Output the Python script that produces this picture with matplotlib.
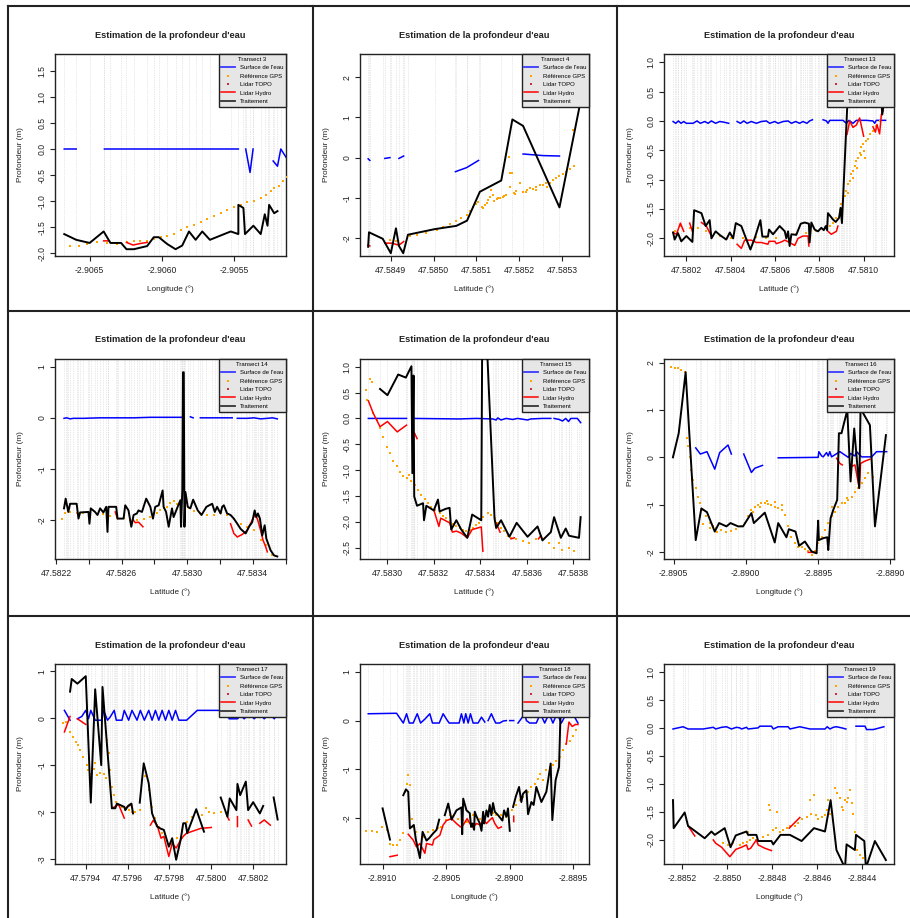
import numpy as np
import matplotlib.pyplot as plt
from matplotlib.lines import Line2D

nan = np.nan

# ---- Transect 3 (longitude) ----
t3_eau_x = [-2.906676, -2.906593, nan, -2.906398, -2.905470, nan, -2.905419, -2.905389, -2.905368,
            nan, -2.905229, -2.905199, -2.905176, -2.905137]
t3_eau_y = [0, 0, nan, 0, 0, nan, 0, -0.45, 0, nan, -0.23, -0.33, 0, -0.17]
t3_gps_x = [-2.906634, -2.906576, -2.906519, -2.906449, -2.906380, -2.906310, -2.906241, -2.906194,
            -2.906148, -2.906102, -2.906056, -2.906009, -2.905963, -2.905917, -2.905870, -2.905824,
            -2.905778, -2.905731, -2.905685, -2.905639, -2.905593, -2.905546, -2.905500, -2.905454,
            -2.905407, -2.905361, -2.905315, -2.905280, -2.905245, -2.905222, -2.905187, -2.905164,
            -2.905136]
t3_gps_y = [-1.86, -1.86, -1.82, -1.79, -1.81, -1.82, -1.79, -1.76, -1.77, -1.76, -1.72, -1.69, -1.66,
            -1.62, -1.56, -1.50, -1.45, -1.40, -1.34, -1.28, -1.23, -1.17, -1.12, -1.07, -1.02, -0.99,
            -0.94, -0.89, -0.80, -0.75, -0.70, -0.61, -0.53]
t3_hydro_x = [-2.906403, -2.906368, nan, -2.906245, -2.906199, -2.906148, -2.906102]
t3_hydro_y = [-1.76, -1.76, nan, -1.79, -1.84, -1.81, -1.79]
t3_trait_x = [-2.906676, -2.906593, -2.906500, -2.906403, -2.906356, -2.906282, -2.906245, -2.906194,
              -2.906102, -2.906056, -2.906021, -2.905963, -2.905905, -2.905859, -2.905812, -2.905766,
              -2.905720, -2.905667, -2.905523, -2.905470, -2.905470, -2.905435, -2.905424, -2.905366,
              -2.905315, -2.905287, -2.905268, -2.905257, -2.905222, -2.905199]
t3_trait_y = [-1.63, -1.74, -1.80, -1.58, -1.80, -1.80, -1.92, -1.92, -1.86, -1.69, -1.69, -1.82, -1.92,
              -1.85, -1.58, -1.74, -1.58, -1.74, -1.58, -1.63, -1.07, -1.13, -1.63, -1.47, -1.63, -1.25,
              -1.47, -1.07, -1.23, -1.19]

# ---- Transect 4 (latitude) ----
t4_eau_x = [47.584847, 47.584851, nan, 47.584886, 47.584898, nan, 47.584919, 47.584930, nan,
            47.585051, 47.585077, 47.585105, nan, 47.585209, 47.585256, 47.585294]
t4_eau_y = [-0.03, -0.07, nan, -0.02, 0.0, nan, -0.02, 0.04, nan, -0.35, -0.25, -0.07, nan, 0.09, 0.05, 0.04]
t4_gps_x = [47.584898, 47.584913, 47.584944, 47.584960, 47.584983, 47.585007, 47.585022, 47.585038,
            47.585053, 47.585065, 47.585077, 47.585084, 47.585092, 47.585100, 47.585104, 47.585112,
            47.585119, 47.585127, 47.585131, 47.585135, 47.585139, 47.585147, 47.585154, 47.585162,
            47.585170, 47.585176, 47.585178, 47.585179, 47.585184, 47.585187, 47.585193, 47.585201,
            47.585209, 47.585217, 47.585224, 47.585232, 47.585240, 47.585248, 47.585256, 47.585263,
            47.585271, 47.585279, 47.585287, 47.585294, 47.585302, 47.585310, 47.585318, 47.585327,
            47.585326, 47.585115, 47.585125, 47.585140, 47.585150, 47.585165, 47.585190, 47.585215,
            47.585240, 47.585265]
t4_gps_y = [-2.05, -2.07, -1.94, -1.93, -1.88, -1.80, -1.73, -1.65, -1.59, -1.51, -1.43, -1.34, -1.24,
            -1.15, -1.10, -1.22, -1.18, -1.05, -0.97, -0.81, -0.93, -1.04, -1.01, -0.97, -0.93, 0.01,
            -0.39, -0.72, -0.39, -0.87, -0.82, -0.64, -0.85, -0.80, -0.76, -0.79, -0.72, -0.68, -0.68,
            -0.64, -0.62, -0.56, -0.51, -0.46, -0.41, -0.35, -0.28, -0.20, 0.69, -1.25, -1.12, -1.08,
            -1.00, -0.95, -0.90, -0.86, -0.80, -0.72]
t4_hydro_x = [47.584847, 47.584851, nan, 47.584886, 47.584902, 47.584919, 47.584930]
t4_hydro_y = [-2.18, -2.20, nan, -2.13, -2.13, -2.18, -2.09]
t4_trait_x = [47.584847, 47.584849, 47.584881, 47.584900, 47.584912, 47.584919, 47.584929, 47.584940,
              47.585003, 47.585053, 47.585078, 47.585108, 47.585158, 47.585184, 47.585209, 47.585294,
              47.585361]
t4_trait_y = [-2.22, -1.86, -2.02, -2.38, -1.76, -2.20, -2.38, -1.92, -1.78, -1.70, -1.57, -0.85, -0.57,
              0.95, 0.79, -1.24, 2.35]

# ---- Transect 13 (latitude) ----
t13_eau_x = [47.580140, 47.580152, 47.580164, 47.580176, 47.580188, 47.580200, 47.580230, 47.580248,
             47.580263, 47.580283, 47.580298, 47.580313, 47.580332, 47.580350, 47.580368, 47.580391, nan,
             47.580429, 47.580444, 47.580459, 47.580474, 47.580493, 47.580516, 47.580538, 47.580561,
             47.580576, 47.580599, 47.580614, 47.580636, 47.580659, 47.580674, 47.580693, 47.580711,
             47.580726, 47.580744, 47.580756, 47.580769, nan, 47.580817, 47.580832, 47.580839,
             47.580847, 47.580907, 47.580922, 47.580934, 47.580952, 47.580967, 47.581012, 47.581042,
             47.581050, 47.581057, 47.581099]
t13_eau_y = [-0.01, -0.04, 0.0, -0.04, -0.01, -0.04, -0.04, 0.0, -0.04, -0.01, -0.04, 0.0, -0.04, -0.01,
             -0.02, -0.04, nan, -0.01, -0.04, 0.0, -0.04, -0.01, -0.04, -0.01, 0.0, -0.04, -0.01, -0.04,
             -0.01, 0.0, -0.04, -0.01, -0.04, -0.01, -0.04, 0.0, 0.02, nan, 0.02, 0.0, -0.04, 0.01, 0.01,
             -0.04, 0.01, -0.04, 0.01, 0.01, 0.0, -0.04, 0.01, 0.01]
t13_gps_x = [47.580147, 47.580177, 47.580215, 47.580253, 47.580290, 47.580350, 47.580403, 47.580456,
             47.580516, 47.580561, 47.580606, 47.580651, 47.580696, 47.580741, 47.580787, 47.580817,
             47.580847, 47.580862, 47.580877, 47.580892, 47.580899, 47.580907, 47.580914, 47.580922,
             47.580929, 47.580937, 47.580944, 47.580952, 47.580960, 47.580967, 47.580975, 47.580982,
             47.580990, 47.580997, 47.581005, 47.581012, 47.581020, 47.581027, 47.581042, 47.581057,
             47.581072, 47.580930, 47.580950, 47.580970, 47.580990, 47.581000]
t13_gps_y = [-1.88, -1.79, -1.82, -1.83, -1.88, -1.96, -2.00, -2.00, -1.97, -2.00, -1.99, -1.94, -1.92,
             -1.90, -1.88, -1.84, -1.79, -1.73, -1.65, -1.51, -1.41, -1.36, -1.28, -1.19, -1.08, -1.02,
             -0.91, -0.85, -0.77, -0.68, -0.63, -0.54, -0.45, -0.40, -0.63, -0.34, -0.31, -0.23, -0.17,
             -0.09, 0.0, -1.22, -0.98, -0.80, -0.58, -0.52]
t13_hydro_x = [47.580140, 47.580155, 47.580173, 47.580188, nan, 47.580215, 47.580227, nan,
               47.580268, 47.580290, 47.580313, nan,
               47.580429, 47.580448, 47.580463, 47.580493, 47.580516, 47.580538, 47.580568, 47.580573,
               47.580599, 47.580606, 47.580629, 47.580644, 47.580666, 47.580689, 47.580704, 47.580726,
               47.580749, 47.580753, nan, 47.580839, 47.580854, 47.580877, 47.580884, nan,
               47.580925, 47.580937, 47.580952, 47.580967, 47.580982, 47.581000, nan,
               47.581042, 47.581053, 47.581060, 47.581072, 47.581080, 47.581087]
t13_hydro_y = [-1.90, -1.93, -1.74, -1.88, nan, -1.74, -1.88, nan, -1.73, -1.79, -1.96, nan,
               -2.10, -2.17, -2.03, -2.03, -2.07, -2.07, -2.10, -2.05, -2.05, -2.09, -2.06, -2.03, -2.07,
               -2.12, -2.00, -1.96, -1.96, -2.13, nan, -1.88, -1.93, -1.88, -1.79, nan,
               -0.23, 0.0, -0.11, -0.07, 0.05, -0.26, nan, -0.10, -0.19, -0.06, -0.22, 0.11, 0.17]
t13_trait_x = [47.580140, 47.580147, 47.580162, 47.580177, 47.580200, 47.580227, 47.580235, 47.580268,
               47.580287, 47.580305, 47.580313, 47.580332, 47.580350, 47.580380, 47.580396, 47.580411,
               47.580423, 47.580448, 47.580468, 47.580489, 47.580508, 47.580534, 47.580543, 47.580568,
               47.580573, 47.580591, 47.580602, 47.580621, 47.580644, 47.580651, 47.580659, 47.580666,
               47.580674, 47.580696, 47.580716, 47.580734, 47.580753, 47.580756, 47.580764, 47.580779,
               47.580794, 47.580799, 47.580809, 47.580820, 47.580829, 47.580835, 47.580839, 47.580862,
               47.580874, 47.580889, 47.580896, 47.580902, 47.580910, 47.580925, 47.580937, nan,
               47.581080, 47.581084, 47.581090]
t13_trait_y = [-1.90, -2.02, -1.91, -2.05, -1.96, -2.06, -1.52, -1.57, -1.79, -1.69, -2.00, -1.88, -1.94,
               -2.02, -1.90, -2.00, -1.74, -1.79, -1.99, -2.19, -2.00, -1.69, -1.97, -1.97, -1.85, -1.93,
               -1.88, -1.79, -1.88, -2.00, -1.88, -2.13, -1.93, -1.94, -1.75, -1.73, -1.75, -2.07, -1.73,
               -1.85, -1.88, -1.86, -1.82, -1.86, -1.79, -1.86, -1.57, -1.68, -1.72, -1.65, -1.48, -1.74,
               -1.08, 0.17, 0.91, nan, 0.34, 0.11, 0.28]

# ---- Transect 14 (latitude) ----
t14_eau_x = [47.582249, 47.582265, 47.582286, 47.582306, 47.582326, 47.582367, 47.582469, 47.582571,
             47.582673, 47.582775, 47.582877, 47.582968, nan, 47.583019, 47.583036, nan, 47.583080,
             47.583182, 47.583274, nan, 47.583305, 47.583366, 47.583406, 47.583447, 47.583488,
             47.583519, 47.583549]
t14_eau_y = [-0.01, 0.0, -0.02, -0.01, -0.01, -0.01, 0.0, 0.0, 0.0, 0.01, 0.01, 0.01, nan, 0.02, 0.0, nan,
             0.0, 0.0, 0.0, nan, -0.01, -0.01, 0.0, -0.02, -0.01, 0.0, -0.02]
t14_gps_x = [47.582235, 47.582255, 47.582286, 47.582326, 47.582367, 47.582408, 47.582449, 47.582489,
             47.582530, 47.582571, 47.582612, 47.582652, 47.582693, 47.582734, 47.582775, 47.582815,
             47.582836, 47.582856, 47.582877, 47.582897, 47.582917, 47.582938, 47.582958, 47.582989,
             47.583009, 47.583040, 47.583080, 47.583121, 47.583162, 47.583203, 47.583243, 47.583284,
             47.583325, 47.583366, 47.583406, 47.583447, 47.583478, 47.583519]
t14_gps_y = [-1.97, -1.86, -1.84, -1.86, -1.87, -1.86, -1.89, -1.89, -1.92, -1.94, -1.95, -1.99, -2.00,
             -1.97, -1.94, -1.87, -1.81, -1.77, -1.74, -1.66, -1.62, -1.68, -1.64, -1.74, -1.77, -1.83,
             -1.87, -1.90, -1.90, -1.87, -1.90, -1.97, -2.07, -2.13, -2.20, -2.39, -2.49, -2.69]
t14_hydro_x = [47.582561, 47.582575, nan, 47.582669, 47.582683, 47.582703, 47.582730, nan,
               47.583264, 47.583284, 47.583305, 47.583335, 47.583366, 47.583396, 47.583411, 47.583427,
               47.583447, 47.583462, 47.583478, 47.583488]
t14_hydro_y = [-1.84, -1.97, nan, -1.99, -2.05, -2.04, -2.13, nan, -2.07, -2.26, -2.33, -2.28, -2.20,
               -2.00, -1.90, -1.97, -2.20, -2.39, -2.52, -2.62]
t14_trait_x = [47.582249, 47.582259, 47.582275, 47.582286, 47.582326, 47.582337, 47.582347, 47.582398,
               47.582404, 47.582412, 47.582438, 47.582453, 47.582469, 47.582489, 47.582506, 47.582514,
               47.582520, 47.582567, 47.582575, 47.582612, 47.582622, 47.582642, 47.582659, 47.582673,
               47.582693, 47.582703, 47.582724, 47.582750, 47.582775, 47.582791, 47.582805, 47.582826,
               47.582850, 47.582856, 47.582871, 47.582887, 47.582907, 47.582917, 47.582938, 47.582958,
               47.582962, 47.582970, 47.582974, 47.582979, 47.582983, 47.582989, 47.583003, 47.583019,
               47.583036, 47.583064, 47.583087, 47.583117, 47.583152, 47.583168, 47.583182, 47.583203,
               47.583213, 47.583223, 47.583243, 47.583264, 47.583284, 47.583305, 47.583325, 47.583356,
               47.583376, 47.583396, 47.583411, 47.583421, 47.583431, 47.583443, 47.583457, 47.583472,
               47.583482, 47.583508, 47.583529, 47.583549]
t14_trait_y = [-1.77, -1.58, -1.84, -1.68, -1.68, -1.97, -1.85, -1.84, -2.07, -1.77, -1.84, -1.90, -1.77,
               -1.85, -1.74, -2.23, -1.74, -1.74, -1.97, -1.97, -1.71, -1.81, -2.13, -1.90, -1.87, -1.81,
               -1.84, -1.58, -1.74, -1.97, -1.74, -1.71, -1.42, -1.74, -1.84, -2.13, -1.77, -1.94, -1.77,
               -1.61, -2.13, -1.42, 0.89, 0.89, -2.13, -1.45, -1.74, -1.77, -1.60, -1.81, -1.90, -1.74,
               -1.68, -1.84, -1.74, -1.87, -1.74, -1.71, -1.87, -1.90, -1.97, -2.07, -2.17, -2.26, -2.13,
               -2.04, -1.81, -1.94, -1.87, -1.97, -2.30, -2.10, -2.36, -2.59, -2.69, -2.71]

# ---- Transect 15 (latitude) ----
t15_eau_x = [47.582919, 47.583083, nan, 47.583111, 47.583311, 47.583382, 47.583453, 47.583468,
             47.583475, 47.583489, 47.583511, 47.583539, 47.583560, 47.583603, 47.583617, 47.583667,
             47.583703, nan, 47.583717, 47.583739, 47.583753, 47.583767, 47.583779, 47.583789,
             47.583817, 47.583831]
t15_eau_y = [0.0, 0.0, nan, 0.0, -0.01, 0.0, -0.01, -0.03, 0.01, -0.03, 0.0, -0.02, 0.0, -0.03, -0.01,
             0.0, 0.0, nan, 0.0, -0.02, -0.05, 0.0, -0.06, 0.0, 0.0, -0.08]
t15_gps_x = [47.582909, 47.582914, 47.582926, 47.582933, 47.582940, 47.582954, 47.582969, 47.582983,
             47.582997, 47.583011, 47.583026, 47.583040, 47.583054, 47.583068, 47.583083, 47.583094,
             47.583104, 47.583118, 47.583133, 47.583147, 47.583161, 47.583175, 47.583190, 47.583204,
             47.583225, 47.583240, 47.583254, 47.583268, 47.583282, 47.583297, 47.583311, 47.583325,
             47.583339, 47.583354, 47.583368, 47.583382, 47.583396, 47.583411, 47.583432, 47.583446,
             47.583461, 47.583475, 47.583489, 47.583503, 47.583518, 47.583532, 47.583553, 47.583582,
             47.583610, 47.583639, 47.583667, 47.583696, 47.583717, 47.583739, 47.583753, 47.583781,
             47.583803]
t15_gps_y = [0.55, 0.35, 0.77, 0.71, 0.10, -0.03, -0.19, -0.35, -0.55, -0.67, -0.83, -0.93, -1.03, -1.11,
             -1.16, -1.09, -1.22, -1.28, -1.38, -1.48, -1.56, -1.64, -1.71, -1.77, -1.83, -1.88, -1.93,
             -1.99, -2.04, -2.09, -2.12, -2.15, -2.18, -2.15, -2.12, -2.06, -2.02, -1.91, -1.83, -1.86,
             -1.93, -2.02, -2.12, -2.18, -2.28, -2.31, -2.34, -2.38, -2.41, -2.34, -2.31, -2.41, -2.50,
             -2.41, -2.54, -2.50, -2.57]
t15_hydro_x = [47.582919, 47.582940, 47.582969, 47.583001, 47.583043, 47.583083, nan,
               47.583118, 47.583128, nan,
               47.583200, 47.583222, 47.583230, 47.583268, 47.583280, 47.583297, 47.583318, 47.583344,
               47.583365, 47.583404, 47.583411, nan, 47.583468, 47.583485, nan, 47.583532, 47.583546,
               nan, 47.583650, 47.583660]
t15_hydro_y = [0.34, 0.10, -0.16, -0.06, -0.26, -0.13, nan, -0.29, -0.39, nan,
               -1.77, -2.09, -1.93, -2.02, -2.20, -2.18, -2.22, -2.31, -2.15, -2.10, -2.57, nan,
               -2.02, -2.20, nan, -2.33, -2.31, nan, -2.33, -2.27]
t15_trait_x = [47.582969, 47.583001, 47.583047, 47.583080, 47.583104, 47.583108, 47.583113, 47.583116,
               47.583128, 47.583154, 47.583158, 47.583168, 47.583200, 47.583218, 47.583225, 47.583251,
               47.583268, 47.583275, 47.583297, 47.583318, 47.583344, 47.583365, 47.583404, 47.583408,
               47.583428, 47.583461, 47.583468, 47.583489, 47.583525, 47.583556, 47.583603, 47.583646,
               47.583667, 47.583703, 47.583717, 47.583746, 47.583767, 47.583781, 47.583824, 47.583831]
t15_trait_y = [0.57, 0.45, 0.85, 0.79, 1.01, -1.06, 0.83, -1.51, -1.69, -1.64, -1.97, -1.69, -1.78, -1.57,
               -1.80, -1.75, -1.73, -2.15, -1.97, -2.15, -2.31, -1.86, -1.97, 1.45, 1.45, -1.93, -2.12,
               -1.97, -2.29, -2.02, -2.29, -2.09, -2.36, -2.20, -1.91, -2.31, -2.13, -2.27, -2.31, -1.91]

# ---- Transect 16 (longitude) ----
t16_eau_x = [-2.890347, -2.890315, -2.890269, -2.890215, -2.890181, -2.890123, -2.890100, nan,
             -2.890014, -2.889961, -2.889937, -2.889884, nan,
             -2.889775, -2.889498, -2.889493, -2.889474, -2.889463, -2.889440, -2.889428, -2.889417,
             -2.889405, -2.889347, -2.889289, -2.889273, -2.889243, -2.889231, -2.889197, -2.889127,
             -2.889093, -2.889023]
t16_eau_y = [0.20, 0.07, 0.12, -0.25, 0.10, 0.26, 0.07, nan, 0.07, -0.32, -0.23, -0.17, nan,
             -0.01, 0.0, 0.12, 0.03, 0.01, 0.10, 0.03, 0.12, 0.01, 0.12, 0.0, 0.08, 0.03, 0.12, 0.01,
             0.01, 0.12, 0.12]
t16_gps_x = [-2.890516, -2.890493, -2.890470, -2.890447, -2.890424, -2.890407, -2.890400, -2.890389,
             -2.890377, -2.890366, -2.890347, -2.890331, -2.890315, -2.890296, -2.890273, -2.890250,
             -2.890227, -2.890204, -2.890169, -2.890134, -2.890100, -2.890065, -2.890030, -2.890007,
             -2.889984, -2.889961, -2.889937, -2.889914, -2.889891, -2.889868, -2.889845, -2.889822,
             -2.889799, -2.889775, -2.889752, -2.889729, -2.889706, -2.889683, -2.889660, -2.889637,
             -2.889613, -2.889590, -2.889567, -2.889544, -2.889521, -2.889498, -2.889474, -2.889451,
             -2.889428, -2.889405, -2.889382, -2.889359, -2.889336, -2.889312, -2.889289, -2.889266,
             -2.889243, -2.889220, -2.889197, -2.889174, -2.889151, -2.889116,
             -2.889950, -2.889900, -2.889850, -2.889800, -2.889750, -2.890300, -2.890250, -2.890200,
             -2.889400, -2.889300]
t16_gps_y = [1.92, 1.90, 1.88, 1.85, 1.81, 0.40, 0.23, 0.01, -0.27, -0.48, -0.65, -0.83, -0.97, -1.11,
             -1.25, -1.39, -1.46, -1.50, -1.54, -1.57, -1.55, -1.52, -1.46, -1.39, -1.25, -1.11, -1.04,
             -1.01, -0.97, -0.96, -0.99, -1.01, -1.04, -1.08, -1.11, -1.22, -1.46, -1.68, -1.82, -1.89,
             -1.90, -1.94, -1.99, -2.06, -1.99, -1.82, -1.68, -1.54, -1.39, -1.25, -1.15, -1.04, -0.97,
             -0.97, -0.90, -0.83, -0.73, -0.65, -0.55, -0.44, -0.34, -0.41,
             -1.15, -1.05, -0.92, -0.95, -1.00, -1.40, -1.50, -1.58, -1.05, -0.85]
t16_hydro_x = [-2.889567, -2.889509, nan, -2.889370, -2.889347, -2.889331, nan,
               -2.889273, -2.889243, -2.889213, -2.889204, -2.889174, -2.889139]
t16_hydro_y = [-2.01, -2.01, nan, -0.02, -0.13, -0.16, nan, -0.20, -0.16, -0.65, -0.13, -0.08, -0.04]
t16_trait_x = [-2.890505, -2.890465, -2.890417, -2.890347, -2.890308, -2.890269, -2.890215, -2.890185,
               -2.890134, -2.890106, -2.890053, -2.890019, -2.889961, -2.889944, -2.889868, -2.889799,
               -2.889775, -2.889718, -2.889701, -2.889655, -2.889630, -2.889590, -2.889544, -2.889509,
               -2.889498, -2.889493, -2.889463, -2.889435, -2.889428, -2.889412, -2.889393, -2.889366,
               -2.889354, -2.889336, -2.889296, -2.889273, -2.889248, -2.889213, -2.889204, -2.889185,
               -2.889139, -2.889104, -2.889028]
t16_trait_y = [0.0, 0.51, 1.80, -1.75, -1.08, -1.16, -1.57, -1.39, -1.46, -1.39, -1.46, -1.46, -1.18,
               -1.39, -1.17, -1.80, -1.39, -1.69, -1.52, -1.57, -1.87, -1.78, -1.99, -2.03, -1.34, -1.75,
               -1.71, -1.69, -1.96, -1.29, -1.11, -0.90, 0.51, 0.51, 1.00, -0.51, 0.61, -0.65, 1.04,
               0.93, 0.68, -1.46, 0.47]

# ---- Transect 17 (latitude) ----
t17_eau_x = [47.579298, 47.579325, nan, 47.579360, 47.579381, 47.579400, 47.579413, 47.579424,
             47.579445, 47.579477, 47.579485, 47.579504, 47.579517, 47.579536, 47.579546, 47.579573,
             47.579584, 47.579605, 47.579621, 47.579645, 47.579661, 47.579680, 47.579701, 47.579717,
             47.579733, 47.579749, 47.579765, 47.579781, 47.579797, 47.579813, 47.579829, 47.579845,
             47.579882, 47.579933, 47.580029, 47.580077, 47.580085, 47.580125, 47.580141, 47.580157,
             47.580181, 47.580205, 47.580229, 47.580253, 47.580277, 47.580301, 47.580317]
t17_eau_y = [0.17, -0.04, nan, -0.01, 0.04, 0.17, -0.01, 0.17, -0.04, -0.04, 0.17, -0.04, 0.03, 0.17,
             -0.04, -0.04, 0.17, -0.04, 0.17, -0.04, 0.17, -0.04, 0.17, -0.04, 0.17, -0.04, 0.17, -0.04,
             0.17, -0.04, 0.17, -0.04, -0.04, 0.17, 0.17, 0.16, -0.01, -0.01, 0.06, -0.01, 0.10, -0.01,
             0.10, -0.01, 0.10, -0.01, 0.10]
t17_gps_x = [47.579293, 47.579304, 47.579325, 47.579341, 47.579354, 47.579365, 47.579373, 47.579389,
             47.579405, 47.579413, 47.579421, 47.579437, 47.579445, 47.579453, 47.579469, 47.579485,
             47.579498, 47.579501, 47.579509, 47.579517, 47.579525, 47.579533, 47.579546, 47.579557,
             47.579573, 47.579589, 47.579605, 47.579621, 47.579637, 47.579661, 47.579685, 47.579701,
             47.579717, 47.579733, 47.579749, 47.579765, 47.579781, 47.579797, 47.579813, 47.579837,
             47.579861, 47.579885, 47.579909, 47.579933, 47.579957, 47.579973, 47.579989, 47.580013,
             47.580045]
t17_gps_y = [-0.11, -0.08, -0.30, -0.40, -0.50, -0.57, -0.68, -0.82, -1.00, -1.11, -1.18, -1.09, -0.96,
             -1.21, -1.16, -1.19, -1.28, -0.47, -0.75, -1.11, -1.46, -1.64, -1.78, -1.85, -1.90, -1.94,
             -1.96, -1.99, -1.99, -1.96, -1.23, -1.53, -1.90, -2.13, -2.31, -2.45, -2.54, -2.70, -2.67,
             -2.56, -2.38, -2.21, -2.10, -1.99, -2.06, -1.92, -1.99, -2.03, -1.99]
t17_hydro_x = [47.579298, 47.579325, nan, 47.579360, 47.579400, nan, 47.579525, 47.579557, 47.579584,
               nan, 47.579589, 47.579618, nan, 47.579709, 47.579722, 47.579741, 47.579760, 47.579773,
               47.579797, 47.579813, 47.579832, 47.579853, 47.579866, 47.579882, nan, 47.579885,
               47.579949, 47.580000, nan, 47.580077, 47.580085, nan, 47.580125, 47.580125, nan,
               47.580176, 47.580192, nan, 47.580232, 47.580253, 47.580282]
t17_hydro_y = [-0.29, 0.04, nan, -0.01, -0.13, nan, -1.92, -1.84, -2.13, nan, -1.92, -1.84, nan,
               -2.28, -2.18, -2.28, -2.56, -2.52, -2.95, -2.67, -2.77, -2.60, -2.52, -2.45, nan,
               -2.45, -2.35, -2.33, nan, -2.10, -2.17, nan, -2.10, -2.31, nan, -2.17, -2.30, nan,
               -2.24, -2.17, -2.28]
t17_trait_x = [47.579325, 47.579333, 47.579360, 47.579400, 47.579424, 47.579445, 47.579474, 47.579480,
               47.579501, 47.579525, 47.579541, 47.579549, 47.579584, 47.579589, 47.579602, 47.579618,
               47.579626, nan, 47.579658, 47.579677, 47.579701, 47.579717, 47.579741, 47.579760,
               47.579773, 47.579797, 47.579813, 47.579832, 47.579853, 47.579866, 47.579877, 47.579885,
               47.579928, 47.579965, nan, 47.580045, 47.580077, 47.580088, 47.580120, 47.580125,
               47.580138, 47.580165, 47.580176, 47.580200, 47.580232, 47.580248, nan, 47.580298,
               47.580317]
t17_trait_y = [0.57, 0.84, 0.74, 0.90, -1.80, 0.62, -1.00, 0.67, -0.54, -1.92, -1.92, -1.82, -1.89,
               -1.96, -1.87, -1.82, -2.03, nan, -1.80, -0.96, -1.39, -2.03, -2.31, -2.36, -2.38, -2.74,
               -2.56, -3.02, -2.60, -2.24, -2.24, -2.45, -1.94, -2.42, nan, -1.69, -2.10, -1.71, -1.96,
               -1.40, -1.64, -1.35, -1.96, -1.79, -2.03, -1.87, nan, -1.69, -2.16]

# ---- Transect 18 (longitude) ----
t18_eau_x = [-2.891113, -2.890890, -2.890837, -2.890811, -2.890790, -2.890759, -2.890727, -2.890701,
             -2.890667, -2.890628, -2.890607, -2.890554, -2.890523, -2.890497, -2.890476, -2.890439,
             -2.890397, -2.890379, -2.890360, -2.890345, -2.890326, -2.890308, -2.890287, -2.890248,
             -2.890221, -2.890195, nan, -2.890169, -2.890143, -2.890124, -2.890109, -2.890077,
             -2.890051, -2.890025, nan, -2.889998, -2.889967, nan, -2.889933, -2.889899, -2.889880,
             -2.889867, -2.889841, -2.889789, -2.889757, -2.889723, -2.889689, -2.889658, -2.889626,
             -2.889592, -2.889553, -2.889513, -2.889487, -2.889461]
t18_eau_y = [0.14, 0.15, -0.05, 0.14, -0.05, -0.05, 0.14, -0.05, 0.03, 0.14, -0.05, -0.05, 0.14, 0.03,
             -0.05, -0.05, -0.05, 0.14, -0.05, 0.14, -0.05, 0.14, -0.05, -0.05, 0.07, -0.03, nan, 0.0,
             0.14, 0.03, -0.05, -0.05, -0.01, 0.0, nan, 0.0, 0.0, nan, -0.05, 0.07, 0.14, 0.0, -0.05,
             -0.05, 0.14, -0.05, 0.14, -0.05, 0.14, -0.05, 0.14, 0.14, 0.07, -0.05]
t18_gps_x = [-2.891131, -2.891087, -2.891047, -2.891008, -2.890969, -2.890942, -2.890916, -2.890885,
             -2.890864, -2.890843, -2.890824, -2.890811, -2.890798, -2.890785, -2.890772, -2.890759,
             -2.890733, -2.890680, -2.890641, -2.890601, -2.890562, -2.890536, -2.890497, -2.890470,
             -2.890444, -2.890405, -2.890365, -2.890339, -2.890313, -2.890287, -2.890261, -2.890234,
             -2.890208, -2.890169, -2.890130, -2.890103, -2.890064, -2.890025, -2.889977, -2.889946,
             -2.889920, -2.889894, -2.889854, -2.889828, -2.889802, -2.889776, -2.889762, -2.889736,
             -2.889710, -2.889684, -2.889658, -2.889631, -2.889605, -2.889579, -2.889553, -2.889526,
             -2.889500, -2.889474]
t18_gps_y = [-2.26, -2.27, -2.28, -2.18, -2.24, -2.52, -2.55, -2.55, -2.45, -2.31, -1.46, -1.29, -1.12,
             -1.33, -2.01, -2.18, -2.28, -2.38, -2.28, -2.24, -2.21, -2.18, -2.04, -1.94, -1.96, -2.01,
             -2.04, -2.07, -1.97, -1.94, -2.11, -2.01, -1.94, -1.87, -1.90, -1.94, -1.94, -1.97, -1.84,
             -1.73, -1.63, -1.56, -1.46, -1.36, -1.29, -1.19, -1.09, -1.22, -1.02, -0.95, -0.92, -0.82,
             -0.75, -0.61, -0.48, -0.41, -0.31, -0.20]
t18_hydro_x = [-2.890942, -2.890885, nan, -2.890798, -2.890759, -2.890733, -2.890706, -2.890667,
               -2.890654, -2.890607, -2.890596, -2.890549, -2.890523, -2.890497, -2.890457, -2.890418,
               -2.890386, -2.890365, -2.890334, -2.890313, -2.890287, -2.890261, -2.890229, -2.890208,
               -2.890182, -2.890156, -2.890135, -2.890116, -2.890090, -2.890064, nan, -2.889967,
               -2.889967, nan, -2.889553, -2.889532, -2.889506, -2.889482, -2.889461]
t18_hydro_y = [-2.79, -2.76, nan, -2.33, -2.45, -2.59, -2.52, -2.72, -2.52, -2.55, -2.44, -2.35, -2.14,
               -2.05, -2.01, -2.11, -2.18, -2.14, -2.01, -2.11, -2.19, -2.11, -2.14, -2.03, -2.11, -2.04,
               -1.99, -2.11, -2.21, -2.18, nan, -1.96, -2.07, nan, -0.48, -0.03, -0.12, -0.08, -0.08]
t18_trait_x = [-2.891000, -2.890942, nan, -2.890837, -2.890816, -2.890798, -2.890785, -2.890754,
               -2.890738, -2.890706, -2.890685, -2.890654, -2.890633, -2.890601, -2.890575, -2.890554,
               nan, -2.890510, -2.890483, -2.890457, -2.890418, -2.890379, -2.890373, -2.890365,
               -2.890339, -2.890313, -2.890303, -2.890292, -2.890279, -2.890274, -2.890261, -2.890234,
               -2.890221, -2.890208, -2.890200, -2.890190, -2.890182, -2.890169, -2.890156, -2.890143,
               -2.890130, -2.890116, -2.890090, -2.890056, -2.890043, -2.890025, -2.890012, -2.889998,
               nan, -2.889972, -2.889951, -2.889925, -2.889907, -2.889894, -2.889867, -2.889854,
               -2.889828, -2.889810, -2.889789, -2.889749, -2.889710, -2.889676, -2.889663, -2.889637,
               -2.889610, -2.889600, -2.889579]
t18_trait_y = [-1.80, -2.44, nan, -1.53, -1.41, -1.46, -2.21, -2.14, -2.44, -2.82, -2.28, -2.46, -2.41,
               -2.31, -2.24, -2.03, nan, -1.94, -1.70, -2.03, -1.84, -1.78, -2.33, -1.60, -1.84, -1.90,
               -2.18, -2.11, -2.24, -1.87, -1.96, -2.11, -2.26, -1.87, -2.11, -1.97, -1.84, -1.97, -1.73,
               -1.94, -1.69, -1.87, -1.94, -2.05, -1.84, -1.97, -1.80, -2.26, nan, -1.77, -1.56, -1.36,
               -1.67, -1.50, -1.43, -1.92, -1.67, -1.73, -1.36, -1.67, -1.46, -0.88, -2.04, -1.22, -0.95,
               0.0, 0.54]

# ---- Transect 19 (longitude) ----
t19_eau_x = [-2.885242, -2.885197, -2.885175, -2.885108, -2.885063, -2.885052, -2.885026, -2.885004,
             -2.884982, -2.884960, -2.884945, -2.884937, -2.884915, -2.884908, -2.884863, -2.884856,
             -2.884804, -2.884796, -2.884774, -2.884730, -2.884722, -2.884678, -2.884633, -2.884566,
             -2.884556, -2.884544, -2.884529, -2.884515, -2.884492, -2.884473, nan, -2.884428,
             -2.884388, -2.884381, -2.884351, -2.884304]
t19_eau_y = [-0.02, 0.02, -0.02, -0.02, 0.01, -0.02, 0.01, 0.02, -0.02, 0.01, 0.0, -0.02, 0.01, -0.02,
             0.0, 0.03, 0.03, -0.02, 0.02, 0.02, -0.02, 0.02, -0.02, -0.02, 0.02, -0.02, 0.01, 0.02, 0.0,
             -0.02, nan, 0.03, 0.03, -0.03, -0.03, 0.02]
t19_gps_x = [-2.885019, -2.884997, -2.884974, -2.884945, -2.884930, -2.884915, -2.884908, -2.884900,
             -2.884885, -2.884871, -2.884841, -2.884819, -2.884814, -2.884811, -2.884796, -2.884782,
             -2.884779, -2.884767, -2.884752, -2.884737, -2.884722, -2.884700, -2.884685, -2.884670,
             -2.884648, -2.884633, -2.884626, -2.884615, -2.884606, -2.884596, -2.884581, -2.884566,
             -2.884559, -2.884551, -2.884544, -2.884522, -2.884511, -2.884500, -2.884492, -2.884485,
             -2.884477, -2.884467, -2.884462, -2.884455, -2.884448, -2.884443, -2.884433, -2.884425,
             -2.884411, -2.884396]
t19_gps_y = [-2.06, -2.09, -2.06, -2.09, -2.05, -2.03, -1.85, -2.00, -1.97, -2.00, -1.94, -1.91, -1.38,
             -1.47, -1.82, -1.79, -1.51, -1.85, -1.82, -1.79, -1.76, -1.75, -1.70, -1.62, -1.59, -1.29,
             -1.53, -1.20, -1.56, -1.62, -1.59, -1.56, -1.47, -1.29, -1.53, -1.08, -1.17, -1.26, -1.41,
             -1.47, -1.29, -1.32, -1.26, -1.11, -1.35, -1.53, -1.85, -2.18, -2.27, -2.33]
t19_hydro_x = [-2.885175, -2.885145, nan, -2.885063, -2.885052, -2.885026, -2.884989, -2.884963,
               -2.884937, -2.884915, -2.884908, -2.884897, -2.884871, -2.884863, -2.884833, -2.884804,
               nan, -2.884725, -2.884678]
t19_hydro_y = [-1.75, -1.93, nan, -2.00, -2.06, -2.13, -2.30, -2.17, -2.13, -2.09, -2.17, -2.15, -2.00,
               -2.09, -2.15, -2.19, nan, -1.79, -1.60]
t19_trait_x = [-2.885242, -2.885239, -2.885190, -2.885175, -2.885101, -2.885071, -2.885056, -2.885012,
               -2.884986, -2.884963, -2.884915, -2.884908, -2.884871, -2.884863, -2.884804, -2.884796,
               -2.884764, -2.884722, -2.884670, -2.884615, -2.884566, -2.884541, -2.884515, -2.884477,
               -2.884470, -2.884433, -2.884428, -2.884391, -2.884384, -2.884344, -2.884295]
t19_trait_y = [-1.29, -1.79, -1.51, -1.75, -1.97, -1.85, -1.91, -1.79, -2.13, -1.92, -1.85, -1.91, -1.91,
               -2.02, -2.02, -2.08, -1.91, -1.91, -2.02, -1.79, -1.85, -1.29, -2.18, -2.50, -2.08, -2.18,
               -1.91, -2.02, -2.50, -2.02, -2.36]

# panel table: name, axis label, series, limits, ticks
panels = [
    ("Transect 3", "Longitude (°)", (t3_eau_x, t3_eau_y), (t3_gps_x, t3_gps_y), (t3_hydro_x, t3_hydro_y),
     (t3_trait_x, t3_trait_y), (-2.90674, -2.90514), (-2.05, 1.82),
     np.arange(-2.9065, -2.90549, 0.0005), 1, np.arange(-2.0, 1.51, 0.5), "%.1f"),
    ("Transect 4", "Latitude (°)", (t4_eau_x, t4_eau_y), (t4_gps_x, t4_gps_y), (t4_hydro_x, t4_hydro_y),
     (t4_trait_x, t4_trait_y), (47.584828, 47.585363), (-2.45, 2.58),
     np.arange(47.5849, 47.58531, 0.0001), 1, np.arange(-2, 2.1, 1), "%d"),
    ("Transect 13", "Latitude (°)", (t13_eau_x, t13_eau_y), (t13_gps_x, t13_gps_y),
     (t13_hydro_x, t13_hydro_y), (t13_trait_x, t13_trait_y), (47.580099, 47.581137), (-2.30, 1.14),
     np.arange(47.5802, 47.58101, 0.0002), 1, np.arange(-2.0, 1.01, 0.5), "%.1f"),
    ("Transect 14", "Latitude (°)", (t14_eau_x, t14_eau_y), (t14_gps_x, t14_gps_y),
     (t14_hydro_x, t14_hydro_y), (t14_trait_x, t14_trait_y), (47.582194, 47.583602), (-2.76, 1.15),
     np.arange(47.5822, 47.58361, 0.0002), 2, np.arange(-2, 1.1, 1), "%d"),
    ("Transect 15", "Latitude (°)", (t15_eau_x, t15_eau_y), (t15_gps_x, t15_gps_y),
     (t15_hydro_x, t15_hydro_y), (t15_trait_x, t15_trait_y), (47.582883, 47.583867), (-2.72, 1.15),
     np.arange(47.5830, 47.58381, 0.0002), 1, np.arange(-2.5, 1.01, 0.5), "%.1f"),
    ("Transect 16", "Longitude (°)", (t16_eau_x, t16_eau_y), (t16_gps_x, t16_gps_y),
     (t16_hydro_x, t16_hydro_y), (t16_trait_x, t16_trait_y), (-2.890567, -2.888972), (-2.15, 2.08),
     np.arange(-2.8905, -2.88899, 0.0005), 1, np.arange(-2, 2.1, 1), "%d"),
    ("Transect 17", "Latitude (°)", (t17_eau_x, t17_eau_y), (t17_gps_x, t17_gps_y),
     (t17_hydro_x, t17_hydro_y), (t17_trait_x, t17_trait_y), (47.579253, 47.580357), (-3.11, 1.16),
     np.arange(47.5794, 47.58021, 0.0002), 1, np.arange(-3, 1.1, 1), "%d"),
    ("Transect 18", "Longitude (°)", (t18_eau_x, t18_eau_y), (t18_gps_x, t18_gps_y),
     (t18_hydro_x, t18_hydro_y), (t18_trait_x, t18_trait_y), (-2.891178, -2.889374), (-2.94, 1.16),
     np.arange(-2.8910, -2.88949, 0.0005), 1, np.arange(-2, 1.1, 1), "%d"),
    ("Transect 19", "Longitude (°)", (t19_eau_x, t19_eau_y), (t19_gps_x, t19_gps_y),
     (t19_hydro_x, t19_hydro_y), (t19_trait_x, t19_trait_y), (-2.885282, -2.884259), (-2.43, 1.14),
     np.arange(-2.8852, -2.88439, 0.0002), 1, np.arange(-2.0, 1.01, 0.5), "%.1f"),
]

plt.rcParams['font.family'] = ['Liberation Sans', 'DejaVu Sans']
plt.rcParams['axes.unicode_minus'] = True

W, H = 910, 918
fig = plt.figure(figsize=(W / 100, H / 100), dpi=100)

col_left = [55, 360, 664]
col_right = [286, 589, 894]
row_top = [54, 359, 664]
row_bottom = [256, 559, 864]

# panel frames
frame_kw = dict(color="#222222", lw=1.5, transform=fig.transFigure)
for xp in [8, 313, 617]:
    fig.add_artist(Line2D([xp / W, xp / W], [1 - 6 / H, 0], **frame_kw))
for yp in [6, 311, 616]:
    fig.add_artist(Line2D([8 / W, 1], [1 - yp / H, 1 - yp / H], **frame_kw))

legend_handles = [
    Line2D([], [], color="#3a3aff", lw=1.3),
    Line2D([], [], color="orange", ls="none", marker="s", ms=1.6, mew=0),
    Line2D([], [], color="#c83232", ls="none", marker="s", ms=1.6, mew=0),
    Line2D([], [], color="red", lw=1.1),
    Line2D([], [], color="#333333", lw=1.3),
]
legend_labels = ["Surface de l'eau", "Référence GPS", "Lidar TOPO", "Lidar Hydro", "Traitement"]

for i, (name, xlabel, eau, gps, hydro, trait, xlim, ylim, xt, every, yt, yfmt) in enumerate(panels):
    r, c = divmod(i, 3)
    l, rr, t, b = col_left[c], col_right[c], row_top[r], row_bottom[r]
    w, h = rr - l, b - t
    ax = fig.add_axes([l / W, 1 - b / H, w / W, h / H])

    # dotted verticals at every measurement position
    gx = np.concatenate([np.asarray(trait[0], float), np.asarray(eau[0], float)])
    gx = np.unique(gx[~np.isnan(gx)])
    ax.vlines(gx, ylim[0], ylim[1], colors="#d4d4d4", linestyles=(0, (1, 1.5)), lw=0.5, zorder=0)

    ax.plot(eau[0], eau[1], color="blue", lw=1.1, zorder=2)
    ax.plot(gps[0], gps[1], ls="none", marker="s", ms=1.5, mew=0, color="orange", zorder=3)
    ax.plot(hydro[0], hydro[1], color="red", lw=1.1, zorder=3)
    ax.plot(trait[0], trait[1], color="black", lw=1.4, zorder=4)

    ax.set_xlim(*xlim)
    ax.set_ylim(*ylim)
    ax.set_xticks(xt)
    ax.set_xticklabels(["%.4f" % v if k % every == 0 else "" for k, v in enumerate(xt)])
    ax.set_yticks(yt)
    ax.set_yticklabels([yfmt % v for v in yt], rotation=90, va="center")
    ax.tick_params(axis="both", direction="out", length=3.5, width=0.8, labelsize=6.2,
                   colors="#222222")
    ax.tick_params(axis="x", pad=3.5)
    ax.tick_params(axis="y", pad=2.5)
    for s in ax.spines.values():
        s.set_linewidth(1.0)
        s.set_color("#222222")

    ax.text(0.5, 1 + 19 / h, "Estimation de la profondeur d'eau", transform=ax.transAxes,
            ha="center", va="center", fontsize=6.7, fontweight="bold", color="#222222")
    ax.text(0.5, -33 / h, xlabel, transform=ax.transAxes, ha="center", va="center",
            fontsize=5.9, color="#222222")
    ax.text(-34 / w, 0.5, "Profondeur (m)", transform=ax.transAxes, ha="center", va="center",
            rotation=90, fontsize=5.9, color="#222222")

    leg = ax.legend(legend_handles, legend_labels, title=name, loc="upper right",
                    borderaxespad=0, fontsize=4.3, title_fontsize=4.3, frameon=True,
                    fancybox=False, framealpha=1, facecolor="#e6e6e6", edgecolor="#222222",
                    handlelength=2.3, handletextpad=0.8, labelspacing=0.55, borderpad=0.45)
    leg.get_frame().set_linewidth(1.0)
    leg.set_zorder(10)

fig.savefig("out.png", dpi=100)
